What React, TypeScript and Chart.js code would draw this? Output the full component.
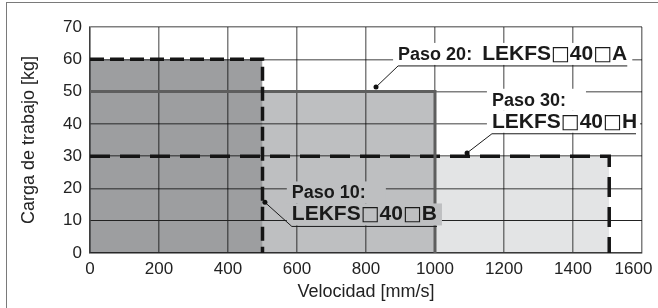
import React, { useEffect, useRef } from 'react';
import { Chart, registerables } from 'chart.js';

Chart.register(...registerables);

// ---- data ----
const seriesLabels = ['Paso 10', 'Paso 20', 'Paso 30'];
const seriesModels = ['LEKFS□40□B', 'LEKFS□40□A', 'LEKFS□40□H'];
const maxSpeeds = [500, 1000, 1505]; // mm/s
const maxLoads = [60, 50, 30]; // kg
const xTickValues = [0, 200, 400, 600, 800, 1000, 1200, 1400, 1600];
const yTickValues = [0, 10, 20, 30, 40, 50, 60, 70];
const xTitle = 'Velocidad [mm/s]';
const yTitle = 'Carga de trabajo [kg]';

// ---- styles ----
const FONT = "'Liberation Sans', Arial, sans-serif";
const fillColors = ['#9d9ea0', '#bebfc1', '#e3e4e5'];
const lineColors = ['#151515', '#5e5e5e', '#151515'];
const lineDashes: number[][] = [[14, 6], [], [20, 10]];
const lineWidths = [3.5, 3, 3.5];
const gridColor = 'rgba(0,0,0,0.5)';

// callout anchors in data coordinates
const callouts = [
  { series: 0, dot: { x: 507, y: 15.7 }, text: { x: 585, y: 16.9 }, twoLines: true, bg: fillColors[1] },
  { series: 1, dot: { x: 829, y: 51.4 }, text: { x: 893, y: 59.8 }, twoLines: false, bg: '#ffffff' },
  { series: 2, dot: { x: 1093, y: 31.0 }, text: { x: 1165, y: 45.6 }, twoLines: true, bg: '#ffffff' },
];

const HEAD_FONT = `bold 18px ${FONT}`;
const MODEL_FONT = `bold 21px ${FONT}`;
const SQUARE_FONT = `20px 'DejaVu Sans', sans-serif`;

type Run = { text: string; font: string };

function modelRuns(model: string): Run[] {
  return model
    .split(/(□)/)
    .filter((p) => p.length > 0)
    .map((p) => ({ text: p, font: p === '□' ? SQUARE_FONT : MODEL_FONT }));
}

function runsWidth(ctx: CanvasRenderingContext2D, runs: Run[]) {
  let w = 0;
  for (const r of runs) {
    ctx.font = r.font;
    w += ctx.measureText(r.text).width;
  }
  return w;
}

const calloutPlugin = {
  id: 'callouts',
  afterDraw(chart: any) {
    const { ctx, chartArea } = chart;
    const xs = chart.scales.x;
    const ys = chart.scales.y;
    ctx.save();
    ctx.textAlign = 'left';
    ctx.textBaseline = 'alphabetic';
    for (const c of callouts) {
      const tx = xs.getPixelForValue(c.text.x);
      const ty = ys.getPixelForValue(c.text.y);
      const head = seriesLabels[c.series] + ':';
      const lines: { runs: Run[]; padR: number }[] = c.twoLines
        ? [
            { runs: [{ text: head, font: HEAD_FONT }], padR: 20 },
            { runs: modelRuns(seriesModels[c.series]), padR: 5 },
          ]
        : [{ runs: [{ text: head + '  ', font: HEAD_FONT }, ...modelRuns(seriesModels[c.series])], padR: 5 }];
      const lineGap = 22;
      let lastBase = ty;
      let lastW = 0;
      lines.forEach((ln, i) => {
        const base = ty + i * lineGap;
        const w = runsWidth(ctx, ln.runs);
        const right = Math.min(tx + w + ln.padR, chartArea.right - 2);
        ctx.fillStyle = c.bg;
        ctx.fillRect(tx - 5, base - 17, right - (tx - 5), 22);
        let cx = tx;
        ctx.fillStyle = '#1a1a1a';
        for (const r of ln.runs) {
          ctx.font = r.font;
          ctx.fillText(r.text, cx, base);
          cx += ctx.measureText(r.text).width;
        }
        lastBase = base;
        lastW = w;
      });
      const uy = lastBase + 6;
      const dx = xs.getPixelForValue(c.dot.x);
      const dy = ys.getPixelForValue(c.dot.y);
      ctx.strokeStyle = '#1a1a1a';
      ctx.lineWidth = 1;
      ctx.beginPath();
      ctx.moveTo(dx, dy);
      ctx.lineTo(tx, uy);
      ctx.lineTo(Math.min(tx + lastW, chartArea.right - 6), uy);
      ctx.stroke();
      ctx.fillStyle = '#111';
      ctx.beginPath();
      ctx.arc(dx, dy, 2.5, 0, Math.PI * 2);
      ctx.fill();
    }
    ctx.restore();
  },
};

export default function App() {
  const ref = useRef<HTMLCanvasElement>(null);

  useEffect(() => {
    if (!ref.current) return;
    const datasets = seriesLabels.map((label, i) => ({
      label: `${label}: ${seriesModels[i]}`,
      data: [
        { x: 0, y: maxLoads[i] },
        { x: maxSpeeds[i], y: maxLoads[i] },
        { x: maxSpeeds[i], y: 0 },
      ],
      borderColor: lineColors[i],
      borderWidth: lineWidths[i],
      borderDash: lineDashes[i],
      borderCapStyle: 'butt' as const,
      backgroundColor: fillColors[i],
      fill: 'origin',
      pointRadius: 0,
      tension: 0,
    }));

    const lastX = xTickValues[xTickValues.length - 1];

    const chart = new Chart(ref.current, {
      type: 'line',
      data: { datasets },
      plugins: [calloutPlugin],
      options: {
        animation: false,
        responsive: false,
        maintainAspectRatio: false,
        devicePixelRatio: 1,
        layout: { padding: { left: 0, right: 16, top: 27, bottom: 0 } },
        plugins: {
          legend: { display: false },
          tooltip: { enabled: false },
          filler: { drawTime: 'beforeDraw' },
        } as any,
        scales: {
          x: {
            type: 'linear',
            min: 0,
            max: 1600,
            afterBuildTicks: (s: any) => {
              s.ticks = xTickValues.map((v) => ({ value: v }));
            },
            afterFit: (s: any) => {
              s.height = 55;
              s.paddingLeft = 0;
              s.paddingRight = 0;
            },
            ticks: {
              font: { family: FONT, size: 17 },
              color: '#222',
              padding: 6,
              maxRotation: 0,
              autoSkip: false,
              callback: (v: any) => (v === lastX ? String(v) + '\u2002\u2002' : String(v)),
            },
            grid: { color: gridColor, lineWidth: 1.5, drawTicks: false },
            border: { display: true, color: gridColor, width: 1.5 },
            title: {
              display: true,
              text: xTitle,
              font: { family: FONT, size: 18 },
              color: '#222',
              padding: { top: 0, bottom: 5 },
            },
          },
          y: {
            type: 'linear',
            min: 0,
            max: 70,
            afterBuildTicks: (s: any) => {
              s.ticks = yTickValues.map((v) => ({ value: v }));
            },
            afterFit: (s: any) => {
              s.width = 90;
            },
            ticks: {
              font: { family: FONT, size: 17 },
              color: '#222',
              padding: 8,
              autoSkip: false,
              callback: (v: any) => String(v),
            },
            grid: {
              color: (c: any) => (c.tick && c.tick.value === 10 ? '#222' : gridColor),
              lineWidth: (c: any) => (c.tick && c.tick.value === 10 ? 1 : 1.5),
              drawTicks: false,
            },
            border: { display: true, color: gridColor, width: 1.5 },
            title: {
              display: true,
              text: yTitle,
              font: { family: FONT, size: 18 },
              color: '#222',
              padding: { top: 18, bottom: 0 },
            },
          },
        },
      } as any,
    });
    return () => chart.destroy();
  }, []);

  return (
    <div
      style={{
        position: 'absolute',
        left: 0,
        top: 0,
        width: 658,
        height: 308,
        overflow: 'hidden',
        background: '#fff',
      }}
    >
      <canvas ref={ref} width={658} height={308} style={{ display: 'block', width: 658, height: 308 }} />
      <div
        style={{
          position: 'absolute',
          left: 6,
          top: 2,
          width: 700,
          height: 400,
          borderLeft: '1.5px solid #7a7a7a',
          borderTop: '1.5px solid #7a7a7a',
          pointerEvents: 'none',
        }}
      />
    </div>
  );
}
